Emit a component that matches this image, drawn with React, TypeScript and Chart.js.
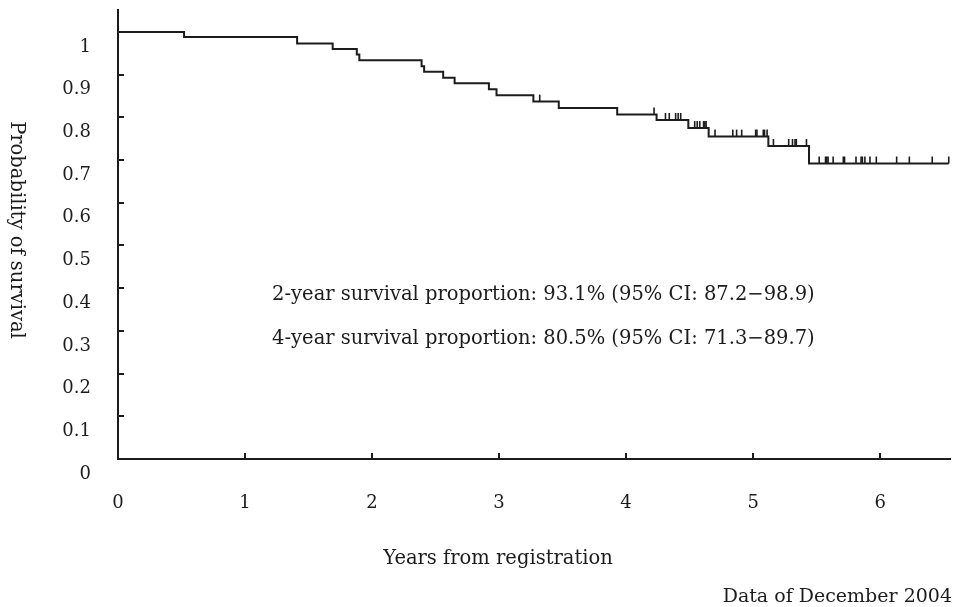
import React, { useEffect, useRef } from "react";
import { Chart, registerables } from "chart.js";

Chart.register(...registerables);

// Kaplan–Meier step data (years from registration, survival proportion after event)
const eventTimes = [0, 0.52, 1.41, 1.69, 1.88, 1.9, 2.39, 2.41, 2.56, 2.65, 2.92, 2.98, 3.27, 3.47, 3.93, 4.24, 4.49, 4.65, 5.12, 5.44, 6.54];
const survivalValues = [1.0, 0.988, 0.973, 0.96, 0.947, 0.934, 0.92, 0.907, 0.893, 0.88, 0.866, 0.852, 0.837, 0.822, 0.807, 0.794, 0.775, 0.755, 0.733, 0.692, 0.692];
const censorTimes = [3.32, 4.22, 4.31, 4.34, 4.39, 4.41, 4.43, 4.54, 4.56, 4.58, 4.61, 4.62, 4.63, 4.7, 4.84, 4.87, 4.91, 5.02, 5.03, 5.08, 5.09, 5.11, 5.16, 5.28, 5.31, 5.33, 5.34, 5.42, 5.52, 5.57, 5.58, 5.59, 5.63, 5.71, 5.72, 5.81, 5.85, 5.86, 5.88, 5.92, 5.97, 6.13, 6.23, 6.41, 6.54];

const yTickValues = [0, 0.1, 0.2, 0.3, 0.4, 0.5, 0.6, 0.7, 0.8, 0.9, 1];
const yTickLabels = ["0", "0.1", "0.2", "0.3", "0.4", "0.5", "0.6", "0.7", "0.8", "0.9", "1"];
const xTickValues = [0, 1, 2, 3, 4, 5, 6];
const xTickLabels = ["0", "1", "2", "3", "4", "5", "6"];

const yAxisTitle = "Probability of survival";
const xAxisTitle = "Years from registration";
const dataNote = "Data of December 2004";
const annotationLines = [
  "2-year survival proportion: 93.1% (95% CI: 87.2\u221298.9)",
  "4-year survival proportion: 80.5% (95% CI: 71.3\u221289.7)",
];
const annotationYValues = [0.384, 0.282];
const annotationXValue = 1.213;

const FONT = "'DejaVu Serif', 'Liberation Serif', serif";
const INK = "#1c1c1c";

function survivalAt(t: number): number {
  let v = survivalValues[0];
  for (let i = 0; i < eventTimes.length; i++) {
    if (eventTimes[i] <= t) v = survivalValues[i];
  }
  return v;
}

const decorPlugin = {
  id: "decor",
  afterDraw(chart: any) {
    const { ctx, chartArea, scales } = chart;
    const xs = scales.x;
    const ys = scales.y;
    ctx.save();
    ctx.strokeStyle = INK;
    ctx.fillStyle = INK;

    // inward tick marks
    ctx.lineWidth = 2;
    yTickValues.forEach((v) => {
      if (v === 0) return;
      const py = Math.round(ys.getPixelForValue(v));
      ctx.beginPath();
      ctx.moveTo(chartArea.left, py);
      ctx.lineTo(chartArea.left + 6, py);
      ctx.stroke();
    });
    xTickValues.forEach((v) => {
      if (v === 0) return;
      const px = Math.round(xs.getPixelForValue(v));
      ctx.beginPath();
      ctx.moveTo(px, chartArea.bottom);
      ctx.lineTo(px, chartArea.bottom - 6);
      ctx.stroke();
    });

    // censor marks
    ctx.lineWidth = 1.6;
    censorTimes.forEach((t) => {
      const px = xs.getPixelForValue(t);
      const py = ys.getPixelForValue(survivalAt(t));
      ctx.beginPath();
      ctx.moveTo(px, py);
      ctx.lineTo(px, py - 7);
      ctx.stroke();
    });

    // annotation text
    ctx.font = `19.5px ${FONT}`;
    ctx.textAlign = "left";
    ctx.textBaseline = "middle";
    annotationLines.forEach((line, i) => {
      ctx.fillText(line, xs.getPixelForValue(annotationXValue), ys.getPixelForValue(annotationYValues[i]));
    });

    // axis titles
    ctx.textAlign = "center";
    ctx.fillText(xAxisTitle, 498, 559);
    ctx.font = `19px ${FONT}`;
    ctx.textAlign = "right";
    ctx.fillText(dataNote, 952, 597);

    ctx.save();
    ctx.font = `19.5px ${FONT}`;
    ctx.translate(16, 230);
    ctx.rotate(Math.PI / 2);
    ctx.textAlign = "center";
    ctx.fillText(yAxisTitle, 0, 0);
    ctx.restore();

    ctx.restore();
  },
};

export default function App() {
  const canvasRef = useRef<HTMLCanvasElement | null>(null);

  useEffect(() => {
    document.body.style.margin = "0";
    const canvas = canvasRef.current;
    if (!canvas) return;
    const chart = new Chart(canvas, {
      type: "line",
      data: {
        datasets: [
          {
            data: eventTimes.map((t, i) => ({ x: t, y: survivalValues[i] })),
            stepped: "before",
            borderColor: INK,
            borderWidth: 2,
            pointRadius: 0,
            fill: false,
          },
        ],
      },
      options: {
        animation: false,
        responsive: false,
        devicePixelRatio: 1,
        layout: { padding: { top: 10, right: 11, left: 0, bottom: 0 }, autoPadding: false },
        plugins: { legend: { display: false }, tooltip: { enabled: false }, title: { display: false } },
        scales: {
          x: {
            type: "linear",
            min: 0,
            max: 6.55,
            afterFit: (s: any) => {
              s.height = 148;
              s.paddingLeft = 0;
              s.paddingRight = 0;
            },
            afterBuildTicks: (s: any) => {
              s.ticks = xTickValues.map((v) => ({ value: v }));
            },
            ticks: {
              padding: 34,
              color: INK,
              font: { family: FONT, size: 18 },
              maxRotation: 0,
              callback: (v: any) => xTickLabels[xTickValues.indexOf(Number(v))] ?? "",
            },
            grid: { display: true, drawOnChartArea: false, drawTicks: false },
            border: { display: true, color: INK, width: 2 },
          },
          y: {
            type: "linear",
            min: 0,
            max: 1.0515,
            afterFit: (s: any) => {
              s.width = 118;
              s.paddingTop = 0;
              s.paddingBottom = 0;
            },
            afterBuildTicks: (s: any) => {
              s.ticks = yTickValues.map((v) => ({ value: v }));
            },
            ticks: {
              padding: 27,
              labelOffset: 15,
              color: INK,
              font: { family: FONT, size: 18 },
              callback: (v: any) => {
                const i = yTickValues.findIndex((t) => Math.abs(t - Number(v)) < 1e-6);
                return i >= 0 ? yTickLabels[i] : "";
              },
            },
            grid: { display: true, drawOnChartArea: false, drawTicks: false },
            border: { display: true, color: INK, width: 2 },
          },
        },
      },
      plugins: [decorPlugin],
    });
    return () => chart.destroy();
  }, []);

  return (
    <div style={{ width: 961, height: 607, background: "#fff" }}>
      <canvas ref={canvasRef} width={961} height={607} style={{ display: "block" }} />
    </div>
  );
}
